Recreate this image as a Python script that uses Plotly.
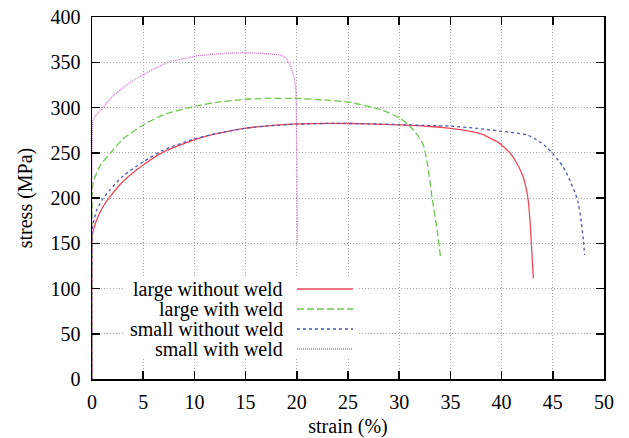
import plotly.graph_objects as go

# ---- data (strain %, stress MPa) ----
large_without_x = [0, 0.05, 0.2, 0.46, 1.0, 1.76, 3, 5, 7, 9.9, 12, 14.9, 17, 20, 23.5, 27, 30.1, 33, 35, 36,
                   37.2, 38.2, 38.9, 39.6, 40.2, 40.8, 41.3, 42.1, 42.55, 42.77, 42.94, 43.1]
large_without_y = [0, 160, 167, 176, 189, 201.5, 218, 236.5, 251, 264, 270.5, 277, 279.5, 281.8, 282.5, 282,
                   280.7, 279, 277, 275.5, 273, 270, 266, 262, 256.7, 250, 242, 223.5, 201.4, 175.7, 142.5,
                   111]

large_with_x = [0, 0.05, 0.13, 0.8, 1.76, 3, 5, 7, 9.9, 12, 14.9, 17, 20, 22.5, 25, 27.8, 29, 30.1, 30.8,
                31.4, 32.0, 32.4, 32.8, 33.2, 33.7, 34.05]
large_with_y = [0, 210, 218, 236, 249, 265, 280.7, 292, 301, 305.5, 309, 310, 310, 308.5, 306, 299, 294, 288,
                282, 275, 266, 257, 234.6, 201, 165, 133]

small_without_x = [0, 0.05, 0.2, 0.46, 1.0, 1.76, 3, 5, 7, 9.9, 12, 14.9, 17, 20, 23.5, 27, 30.1, 33, 35,
                   37.5, 39.8, 42.5, 43.75, 44.4, 45, 45.5, 46, 46.4, 46.8, 47.2, 47.5, 47.8, 48.0, 48.1]
small_without_y = [0, 168, 176, 186.7, 198, 209, 224, 240, 253, 265, 271, 277, 279.5, 281.5, 282.5, 282, 281,
                   280, 279.5, 277, 274, 269.6, 262, 256, 249, 242, 234.6, 226, 216, 205, 194, 172,
                   152, 137]

small_with_x = [0, 0.02, 0.1, 0.3, 1.0, 1.8, 2.7, 4, 5, 6.3, 7.6, 9, 10.2, 11.5, 13.2, 15, 16.1, 17.5, 18.4,
                18.9, 19.1, 19.4, 19.7, 19.9, 20.0, 20.05]
small_with_y = [0, 270, 285, 290, 299, 310, 319, 330, 336, 344, 350.6, 354, 357, 358.5, 360, 360.5, 360, 359,
                358, 355, 352, 345, 335, 320, 250, 148]

series_names = ["large without weld", "large with weld", "small without weld", "small with weld"]
series_x = [large_without_x, large_with_x, small_without_x, small_with_x]
series_y = [large_without_y, large_with_y, small_without_y, small_with_y]
colors = ["#f04858", "#70c850", "#4a58b0", "#d070c8"]
dashes = ["solid", "7px,3px", "3px,3px", "1px,1px"]

x_ticks = [0, 5, 10, 15, 20, 25, 30, 35, 40, 45, 50]
y_ticks = [0, 50, 100, 150, 200, 250, 300, 350, 400]

FONT = "Liberation Serif, Times New Roman, Tinos, DejaVu Serif, serif"

fig = go.Figure()
for name, xs, ys, c, d in zip(series_names, series_x, series_y, colors, dashes):
    fig.add_trace(go.Scatter(x=xs, y=ys, mode="lines", name=name, line_shape="spline",
                             line=dict(color=c, width=1.3, dash=d, smoothing=0.6), showlegend=False))

axis_common = dict(showline=True, linecolor="black", linewidth=1.5, mirror="allticks",
                   ticks="inside", ticklen=8, tickwidth=1.5, tickcolor="black",
                   showgrid=True, gridcolor="#a8a8a8", gridwidth=1, griddash="1px,2px",
                   zeroline=False, automargin=False, ticklabeloverflow="allow",
                   tickfont=dict(family=FONT, size=20, color="black"))

fig.update_xaxes(range=[0, 50], tickvals=x_ticks, ticklabelstandoff=4,
                 title=dict(text="strain (%)", font=dict(family=FONT, size=20, color="black"), standoff=14),
                 **axis_common)
fig.update_yaxes(range=[0, 400], tickvals=y_ticks, ticklabelstandoff=6,
                 title=dict(text="stress (MPa)", font=dict(family=FONT, size=20, color="black"), standoff=12),
                 **axis_common)

# ---- gnuplot-style key (text right-aligned, sample to the right) ----
W, H = 512.0, 362.0
def px(xp):
    return (xp - 92) / W
def py(yp):
    return (379 - yp) / H

shapes = [dict(type="rect", xref="paper", yref="paper", x0=px(124), x1=px(358), y0=py(358), y1=py(278),
               fillcolor="white", line=dict(width=0), layer="above")]
annotations = []
for i, (name, c, d) in enumerate(zip(series_names, colors, dashes)):
    yy = py(289 + 20 * i)
    annotations.append(dict(text=name, xref="paper", yref="paper", x=px(285), y=yy, xanchor="right",
                            yanchor="middle", showarrow=False,
                            font=dict(family=FONT, size=20, color="black")))
    shapes.append(dict(type="line", xref="paper", yref="paper", x0=px(297), x1=px(353), y0=yy, y1=yy,
                       line=dict(color=c, width=1.3, dash=d), layer="above"))

fig.update_layout(width=629, height=438, margin=dict(l=92, r=25, t=17, b=59),
                  plot_bgcolor="white", paper_bgcolor="white",
                  font=dict(family=FONT, size=20, color="black"),
                  shapes=shapes, annotations=annotations, hovermode=False)

# remove the page's default 8px body margin so the figure fills the window exactly
fig.write_html("out.html", config={"displayModeBar": False, "staticPlot": True},
               post_script="document.body.style.margin='0';document.body.style.overflow='hidden';")
